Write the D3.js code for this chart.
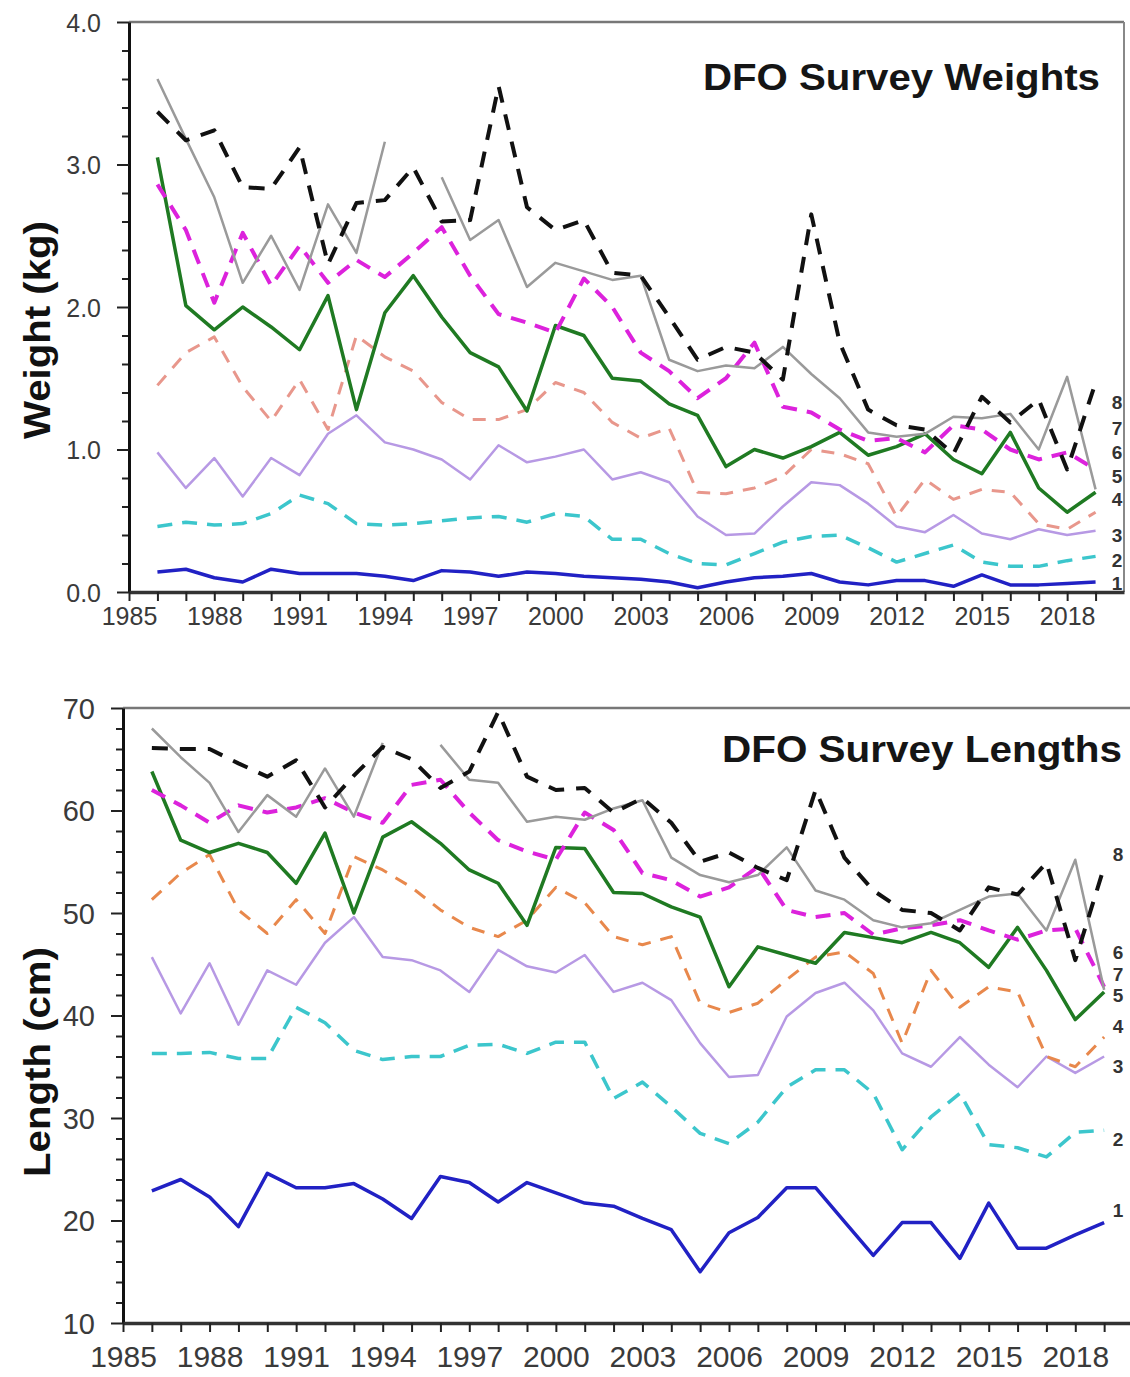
<!DOCTYPE html>
<html>
<head>
<meta charset="utf-8">
<script src="https://cdn.jsdelivr.net/npm/d3@7"></script>
<style>
  body { margin: 0; background: #fff; }
  svg { display: block; font-family: "Liberation Sans", Arial, sans-serif; }
</style>
</head>
<body>
<div class="chart"></div>
<script>
// survey years (x categories)
var years = [1986, 1987, 1988, 1989, 1990, 1991, 1992, 1993, 1994, 1995,
             1996, 1997, 1998, 1999, 2000, 2001, 2002, 2003, 2004, 2005,
             2006, 2007, 2008, 2009, 2010, 2011, 2012, 2013, 2014, 2015,
             2016, 2017, 2018, 2019];
var tickYears = [1985, 1986, 1987, 1988, 1989, 1990, 1991, 1992, 1993, 1994, 1995,
                 1996, 1997, 1998, 1999, 2000, 2001, 2002, 2003, 2004, 2005,
                 2006, 2007, 2008, 2009, 2010, 2011, 2012, 2013, 2014, 2015,
                 2016, 2017, 2018, 2019];
var labelYears = [1985, 1988, 1991, 1994, 1997, 2000, 2003, 2006, 2009, 2012, 2015, 2018];

// weights at age (kg), ages 1..8
var weight1 = [0.14,0.16,0.10,0.07,0.16,0.13,0.13,0.13,0.11,0.08, 0.15,0.14,0.11,0.14,0.13,0.11,0.10,0.09,0.07,0.03, 0.07,0.10,0.11,0.13,0.07,0.05,0.08,0.08,0.04,0.12, 0.05,0.05,0.06,0.07];
var weight2 = [0.46,0.49,0.47,0.48,0.55,0.68,0.62,0.48,0.47,0.48, 0.50,0.52,0.53,0.49,0.55,0.53,0.37,0.37,0.27,0.20, 0.19,0.27,0.35,0.39,0.40,0.31,0.21,0.27,0.33,0.21, 0.18,0.18,0.22,0.25];
var weight3 = [0.98,0.73,0.94,0.67,0.94,0.82,1.11,1.24,1.05,1.00, 0.93,0.79,1.03,0.91,0.95,1.00,0.79,0.84,0.77,0.53, 0.40,0.41,0.60,0.77,0.75,0.62,0.46,0.42,0.54,0.41, 0.37,0.44,0.40,0.43];
var weight4 = [1.45,1.68,1.79,1.44,1.20,1.49,1.14,1.80,1.65,1.55, 1.33,1.21,1.21,1.28,1.47,1.40,1.19,1.08,1.15,0.70, 0.69,0.73,0.81,1.00,0.97,0.90,0.53,0.79,0.65,0.72, 0.70,0.48,0.44,0.56];
var weight5 = [3.05,2.01,1.84,2.00,1.86,1.70,2.08,1.28,1.96,2.22, 1.93,1.68,1.58,1.27,1.87,1.80,1.50,1.48,1.32,1.24, 0.88,1.00,0.94,1.02,1.12,0.96,1.02,1.11,0.93,0.83, 1.12,0.73,0.56,0.70];
var weight6 = [2.86,2.54,2.03,2.52,2.15,2.43,2.17,2.33,2.21,2.38, 2.56,2.22,1.95,1.89,1.82,2.20,2.00,1.68,1.55,1.36, 1.50,1.75,1.30,1.26,1.14,1.06,1.08,0.98,1.17,1.14, 1.00,0.93,0.98,0.86];
var weight7 = [3.60,3.18,2.77,2.17,2.50,2.12,2.72,2.38,3.16,null, 2.91,2.47,2.61,2.14,2.31,2.25,2.19,2.22,1.63,1.55, 1.59,1.57,1.72,1.53,1.36,1.12,1.09,1.11,1.23,1.22, 1.25,1.00,1.51,0.72];
var weight8 = [3.37,3.17,3.24,2.84,2.83,3.12,2.30,2.73,2.75,2.98, 2.60,2.61,3.55,2.70,2.54,2.61,2.24,2.22,1.93,1.63, 1.72,1.68,1.49,2.65,1.75,1.28,1.17,1.14,0.97,1.37, 1.19,1.35,0.86,1.47];

// lengths at age (cm), ages 1..8
var length1 = [22.9,24.0,22.3,19.4,24.6,23.2,23.2,23.6,22.1,20.2, 24.3,23.7,21.8,23.7,22.7,21.7,21.4,20.2,19.1,15.0, 18.8,20.3,23.2,23.2,19.9,16.6,19.8,19.8,16.3,21.7, 17.3,17.3,18.6,19.8];
var length2 = [36.3,36.3,36.4,35.8,35.8,40.8,39.3,36.6,35.7,36.0, 36.0,37.1,37.2,36.3,37.4,37.4,31.9,33.5,31.1,28.5, 27.5,29.6,33.0,34.7,34.7,32.4,26.9,30.1,32.4,27.4, 27.1,26.2,28.6,28.8];
var length3 = [45.7,40.2,45.1,39.1,44.4,43.0,47.1,49.6,45.7,45.4, 44.4,42.3,46.4,44.8,44.2,45.9,42.3,43.2,41.5,37.3, 34.0,34.2,39.9,42.2,43.2,40.5,36.3,35.0,37.9,35.2, 33.0,36.0,34.4,36.0];
var length4 = [51.3,53.9,55.7,50.3,48.0,51.3,48.0,55.5,54.2,52.5, 50.3,48.6,47.7,49.3,52.5,51.0,47.7,46.9,47.7,41.2, 40.3,41.2,43.5,45.7,46.2,44.1,37.3,44.4,40.8,42.8, 42.3,36.0,35.0,37.9];
var length5 = [63.8,57.1,55.9,56.8,55.9,52.9,57.8,50.0,57.4,58.9, 56.8,54.2,52.9,48.8,56.4,56.3,52.0,51.9,50.6,49.6, 42.8,46.7,45.9,45.1,48.1,47.6,47.1,48.1,47.1,44.7, 48.6,44.4,39.6,42.3];
var length6 = [62.0,60.5,58.8,60.5,59.8,60.3,61.2,59.8,58.8,62.5, 63.0,59.8,57.1,56.0,55.2,59.8,58.1,53.9,53.2,51.6, 52.5,54.5,50.3,49.6,50.0,47.9,48.5,48.8,49.3,48.3, 47.4,48.3,48.5,42.8];
var length7 = [68.0,65.2,62.7,57.9,61.5,59.4,64.1,59.4,66.6,null, 66.4,63.0,62.7,58.9,59.4,59.1,60.2,61.0,55.4,53.7, 53.0,53.7,56.4,52.2,51.3,49.3,48.6,49.0,50.3,51.6, 51.9,48.3,55.2,42.5];
var length8 = [66.1,66.0,66.0,64.6,63.3,64.9,60.3,63.4,66.2,65.0, 62.2,63.8,69.6,63.3,62.0,62.2,59.8,61.2,58.8,55.0, 55.9,54.4,53.2,62.0,55.4,52.2,50.3,50.0,48.3,52.5, 51.8,54.9,45.4,54.5];

// end-of-line age labels (value where the number sits)
var ageNames = ["1", "2", "3", "4", "5", "6", "7", "8"];
var weightLabelAt = [0.06, 0.22, 0.40, 0.65, 0.81, 0.98, 1.15, 1.33];
var lengthLabelAt = [21.0, 27.9, 35.0, 38.9, 42.0, 46.2, 44.0, 55.7];

// line styles per age
var colors = ["#2121c4", "#3cc6cc", "#b799e4", "#e8978c", "#1f7a22", "#dc22dc", "#9a9a9a", "#111111"];
var colorsLen = ["#2121c4", "#3cc6cc", "#b799e4", "#e8884c", "#1f7a22", "#dc22dc", "#9a9a9a", "#111111"];
var widths = [3.5, 3.5, 2.5, 3, 3.5, 4, 2.5, 4];
var dashes = [null, "15,10", null, "13,10", null, "15,10", null, "16,12"];

var svg = d3.select(".chart").append("svg")
    .attr("width", 1130)
    .attr("height", 1377);

function drawPanel(opt) {
    var x = d3.scaleLinear().domain([1985, 2020]).range([opt.left, opt.right]);
    var y = d3.scaleLinear().domain(opt.domain).range([opt.bottom, opt.top]);
    var g = svg.append("g");

    // frame: top + right in grey
    g.append("line").attr("x1", opt.left).attr("x2", opt.right)
        .attr("y1", opt.top).attr("y2", opt.top)
        .attr("stroke", "#777").attr("stroke-width", 2.5);
    g.append("line").attr("x1", opt.right).attr("x2", opt.right)
        .attr("y1", opt.top).attr("y2", opt.bottom)
        .attr("stroke", "#888").attr("stroke-width", 2);

    // series
    var line = d3.line()
        .defined(function(d){ return d[1] !== null; })
        .x(function(d){ return x(d[0]); })
        .y(function(d){ return y(d[1]); });

    opt.series.forEach(function(s, i){
        var pts = years.map(function(yr, j){ return [yr, s[j]]; });
        g.append("path")
            .attr("d", line(pts))
            .attr("fill", "none")
            .attr("stroke", opt.colors[i])
            .attr("stroke-width", widths[i])
            .attr("stroke-dasharray", dashes[i])
            .attr("stroke-linejoin", "round");
    });

    // minor y ticks
    g.append("g")
        .attr("transform", "translate(" + opt.left + ",0)")
        .call(d3.axisLeft(y).tickValues(opt.minorTicks).tickSize(7).tickFormat(""))
        .call(function(a){
            a.select(".domain").remove();
            a.selectAll("line").attr("stroke", "#222").attr("stroke-width", 2);
        });

    // major y ticks + axis line
    g.append("g")
        .attr("transform", "translate(" + opt.left + ",0)")
        .call(d3.axisLeft(y).tickValues(opt.majorTicks).tickSize(12).tickPadding(16)
            .tickSizeOuter(0).tickFormat(opt.fmt))
        .call(function(a){
            a.select(".domain").attr("stroke", "#111").attr("stroke-width", 3);
            a.selectAll("line").attr("stroke", "#222").attr("stroke-width", 2);
            a.selectAll("text").attr("fill", "#3a3a3a")
                .style("font-size", opt.tickFont + "px")
                .attr("dy", "0.36em");
        });

    // x axis
    g.append("g")
        .attr("transform", "translate(0," + opt.bottom + ")")
        .call(d3.axisBottom(x).tickValues(tickYears).tickSize(9).tickPadding(opt.xPad)
            .tickSizeOuter(0)
            .tickFormat(function(d){ return labelYears.indexOf(d) >= 0 ? d : ""; }))
        .call(function(a){
            a.select(".domain").attr("stroke", "#333").attr("stroke-width", 3.5);
            a.selectAll("line").attr("stroke", "#222").attr("stroke-width", 2);
            a.selectAll("text").attr("fill", "#3a3a3a")
                .style("font-size", opt.xFont + "px");
        });

    // y title
    g.append("text")
        .attr("transform", "translate(" + opt.titleX + "," + opt.titleY + ") rotate(-90)")
        .attr("text-anchor", "middle")
        .attr("textLength", opt.titleLen)
        .attr("lengthAdjust", "spacingAndGlyphs")
        .style("font-size", "36px")
        .style("font-weight", "bold")
        .attr("fill", "#111")
        .text(opt.yTitle);

    // panel heading
    g.append("text")
        .attr("x", opt.headX)
        .attr("y", opt.headY)
        .attr("textLength", opt.headLen)
        .attr("lengthAdjust", "spacingAndGlyphs")
        .style("font-size", "37px")
        .style("font-weight", "bold")
        .attr("fill", "#151515")
        .text(opt.heading);

    // age labels at right
    g.selectAll("text.age")
        .data(opt.labelAt)
        .enter().append("text")
        .attr("class", "age")
        .attr("x", opt.ageX)
        .attr("y", function(d){ return y(d); })
        .attr("dy", "0.35em")
        .attr("text-anchor", "middle")
        .style("font-size", "19px")
        .style("font-weight", "bold")
        .attr("fill", "#333")
        .text(function(d, i){ return ageNames[i]; });
}

drawPanel({
    left: 129, right: 1124, top: 22, bottom: 592,
    domain: [0, 4],
    majorTicks: [0, 1, 2, 3, 4],
    minorTicks: [0.2, 0.4, 0.6, 0.8, 1.2, 1.4, 1.6, 1.8, 2.2, 2.4, 2.6, 2.8, 3.2, 3.4, 3.6, 3.8],
    fmt: d3.format(".1f"),
    tickFont: 25, xFont: 25, xPad: 6,
    series: [weight1, weight2, weight3, weight4, weight5, weight6, weight7, weight8],
    colors: colors,
    yTitle: "Weight (kg)", titleX: 50, titleY: 330, titleLen: 218,
    heading: "DFO Survey Weights", headX: 703, headY: 90, headLen: 397,
    labelAt: weightLabelAt, ageX: 1117
});

drawPanel({
    left: 123, right: 1133, top: 708, bottom: 1323,
    domain: [10, 70],
    majorTicks: [10, 20, 30, 40, 50, 60, 70],
    minorTicks: [12, 14, 16, 18, 22, 24, 26, 28, 32, 34, 36, 38, 42, 44, 46, 48, 52, 54, 56, 58, 62, 64, 66, 68],
    fmt: d3.format("d"),
    tickFont: 29, xFont: 30, xPad: 14,
    series: [length1, length2, length3, length4, length5, length6, length7, length8],
    colors: colorsLen,
    yTitle: "Length (cm)", titleX: 50, titleY: 1062, titleLen: 230,
    heading: "DFO Survey Lengths", headX: 722, headY: 762, headLen: 400,
    labelAt: lengthLabelAt, ageX: 1118
});
</script>
</body>
</html>
